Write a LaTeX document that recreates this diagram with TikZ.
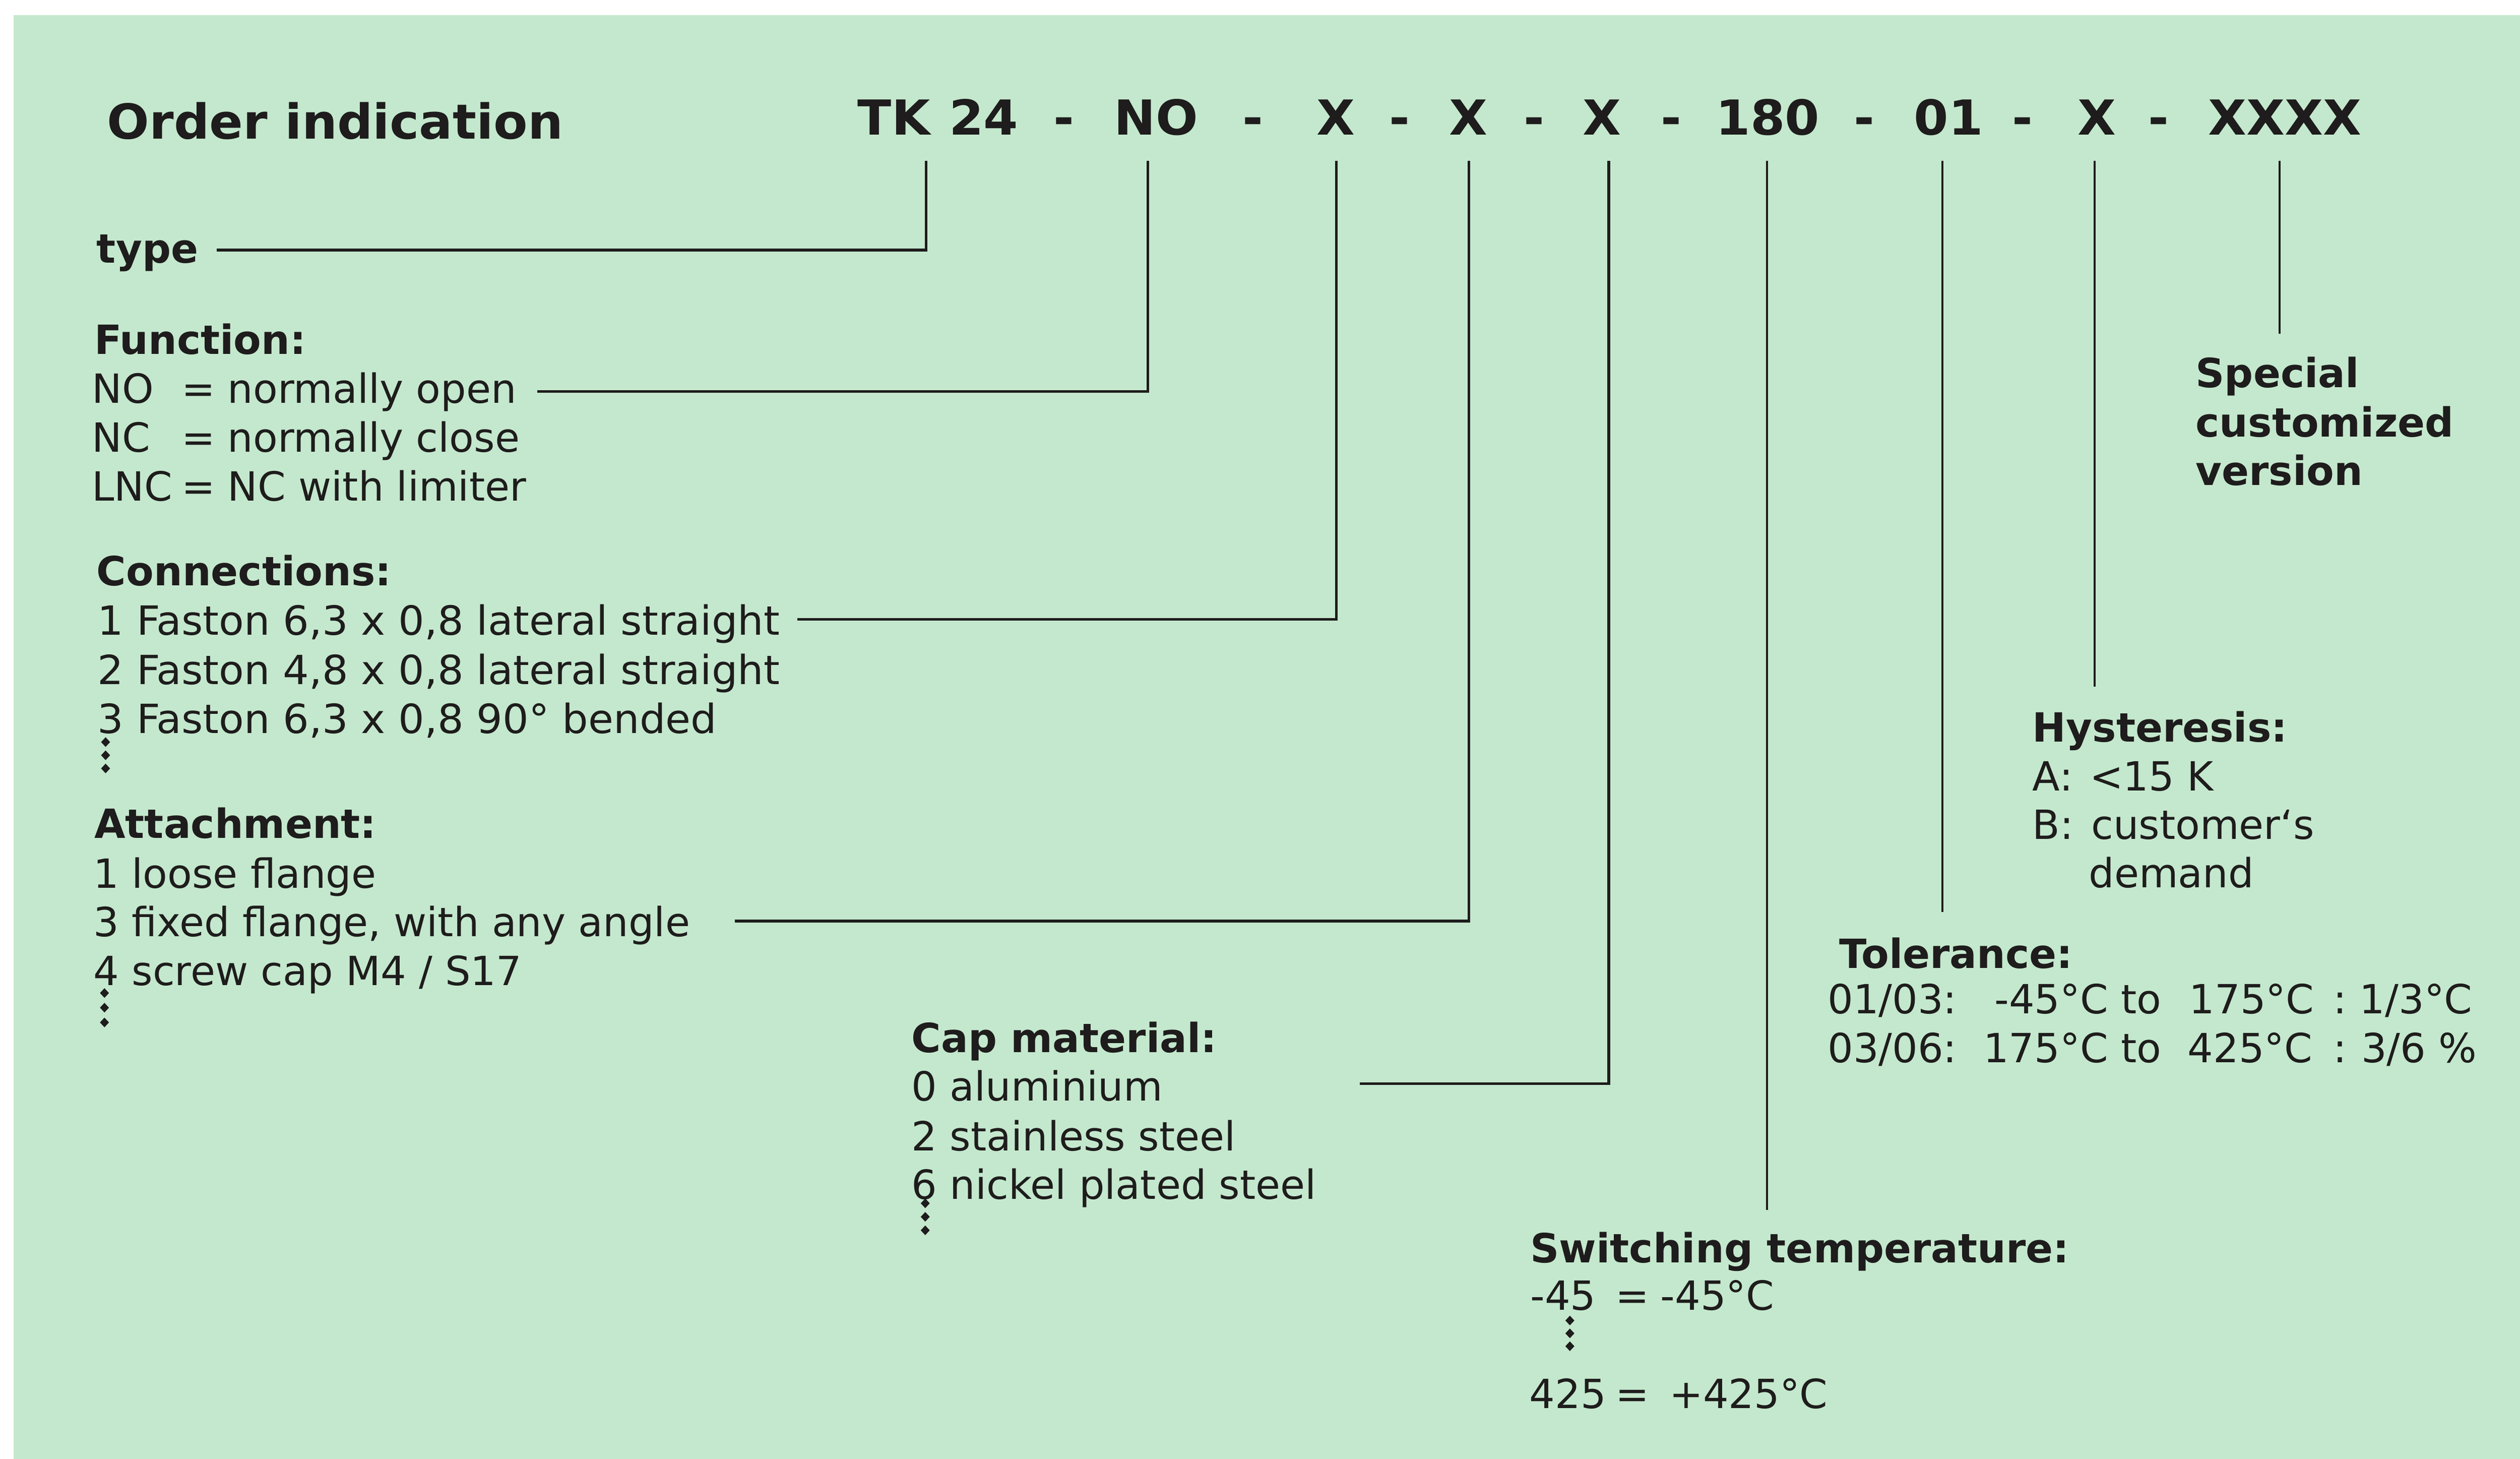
\documentclass[tikz,border=0pt]{standalone}
\usepackage{fontspec}
\setmainfont{DejaVu Sans}
\newfontfamily\bigfont{DejaVu Sans}[FakeStretch=1.03]
\newfontfamily\widefont{DejaVu Sans}[FakeStretch=1.02]
\definecolor{bg}{RGB}{196,232,205}
\definecolor{ink}{RGB}{30,28,28}
\begin{document}
\begin{tikzpicture}[x=1pt,y=-1pt,
  txt/.style={anchor=base west, inner sep=0pt, text=ink, font=\fontsize{25}{30}\selectfont},
  wtxt/.style={txt, font=\widefont\fontsize{25}{30}\selectfont},
  txte/.style={txt, anchor=base east},
  txtc/.style={txt, anchor=base},
  hd/.style={txt, font=\fontsize{25}{30}\selectfont\bfseries},
  big/.style={anchor=base, inner sep=0pt, text=ink, font=\bigfont\fontsize{30}{36}\selectfont\bfseries},
  ln/.style={draw=ink, line width=1.7pt},
  vln/.style={draw=ink, line width=1.3pt}]
\useasboundingbox (0,0) rectangle (1568,907.3);
\fill[white] (-5,-5) rectangle (1575,915);
\fill[bg] (8.5,9.4) rectangle (1575,915);

% title and code
\node[big, anchor=base west] (title) at (66.5,86.3) {Order indication};
\node[big] (cTK)  at (556.2,84) {TK};
\node[big] (c24)  at (612.1,84) {24};
\node[big] (h1)   at (662,84) {-};
\node[big] (cNO)  at (719.3,84) {NO};
\node[big] (h2)   at (779.5,84) {-};
\node[big] (cX1)  at (831.2,84) {X};
\node[big] (h3)   at (870.8,84) {-};
\node[big] (cX2)  at (913.8,84) {X};
\node[big] (h4)   at (954.7,84) {-};
\node[big] (cX3)  at (996.7,84) {X};
\node[big] (h5)   at (1040,84) {-};
\node[big] (c180) at (1099.9,84) {180};
\node[big] (h6)   at (1160,84) {-};
\node[big] (c01)  at (1212.4,84) {01};
\node[big] (h7)   at (1258.5,84) {-};
\node[big] (cX4)  at (1304.8,84) {X};
\node[big] (h8)   at (1343,84) {-};
\node[big] (cXX)  at (1421.6,84) {XXXX};

% type
\node[hd] (type) at (60,163.5) {type};

% Function
\node[hd] (fun) at (58.5,220.4) {Function:};
\node[txt] (funA1) at (57,250.8) {NO};
\node[txt] (funA2) at (113,250.8) {=};
\node[txt] (funA3) at (141.5,250.8) {normally open};
\node[txt] (funB1) at (57,281) {NC};
\node[txt] (funB2) at (113,281) {=};
\node[txt] (funB3) at (141.5,281) {normally close};
\node[txt] (funC1) at (57,311.6) {LNC};
\node[txt] (funC2) at (113,311.6) {=};
\node[txt] (funC3) at (141.5,311.6) {NC with limiter};

% Connections
\node[hd] (con) at (60,364.3) {Connections:};
\node[wtxt] (con1) at (60.5,395.1) {1 Faston 6,3 x 0,8 lateral straight};
\node[wtxt] (con2) at (60.5,425.6) {2 Faston 4,8 x 0,8 lateral straight};
\node[wtxt] (con3) at (60.5,456.1) {3 Faston 6,3 x 0,8 90° bended};

% Attachment
\node[hd] (att) at (58.5,521.4) {Attachment:};
\node[txt] (att1) at (58,552.3) {1 loose flange};
\node[txt] (att2) at (58,582.5) {3 fixed flange, with any angle};
\node[txt] (att3) at (58,612.9) {4 screw cap M4 / S17};

% Cap material
\node[hd] (cap) at (567,654.7) {Cap material:};
\node[txt] (cap1) at (567,684.8) {0 aluminium};
\node[txt] (cap2) at (567,715.7) {2 stainless steel};
\node[txt] (cap3) at (567,745.8) {6 nickel plated steel};

% Switching temperature
\node[hd] (sw) at (952,785.4) {Switching temperature:};
\node[txt] (swA1) at (952,814.8) {-45};
\node[txt] (swA2) at (1005,814.8) {=};
\node[txt] (swA3) at (1033,814.8) {-45°C};
\node[txt] (swB1) at (951.5,875.9) {425};
\node[txt] (swB2) at (1005,875.9) {=};
\node[txt] (swB3) at (1038.5,875.9) {+425°C};

% Tolerance
\node[hd] (tol) at (1144.3,602.2) {Tolerance:};
\node[txt]  (tolA1) at (1137,630.6) {01/03:};
\node[txte] (tolA2) at (1345,630.6) {-45°C to};
\node[txt]  (tolA3) at (1362,630.6) {175°C};
\node[txtc] (tolA4) at (1456,630.6) {:};
\node[txt]  (tolA5) at (1468,630.6) {1/3°C};
\node[txt]  (tolB1) at (1137,661) {03/06:};
\node[txte] (tolB2) at (1345,661) {175°C to};
\node[txt]  (tolB3) at (1361,661) {425°C};
\node[txtc] (tolB4) at (1456,661) {:};
\node[txt]  (tolB5) at (1469,661) {3/6 \%};

% Hysteresis
\node[hd] (hys) at (1264.5,461.5) {Hysteresis:};
\node[txt] (hysA1) at (1264.5,492) {A:};
\node[txt] (hysA2) at (1300,492) {<15 K};
\node[txt] (hysB1) at (1264.5,522) {B:};
\node[txt] (hysB2) at (1301,522) {customer‘s};
\node[txt] (hysB3) at (1299.5,552.1) {demand};

% Special
\node[hd] (sp1) at (1366,241) {Special};
\node[hd] (sp2) at (1366,271.7) {customized};
\node[hd] (sp3) at (1366,301.9) {version};

% connector end points
\coordinate (t1) at (576.3,100);
\coordinate (t2) at (714.3,100);
\coordinate (t3) at (831.5,100);
\coordinate (t4) at (914,100);
\coordinate (t5) at (1001,100);
\coordinate (t6) at (1099.5,100);
\coordinate (t7) at (1208.5,100);
\coordinate (t8) at (1303.2,100);
\coordinate (t9) at (1418.5,100);
\coordinate (s1) at (134.8,155.5);
\coordinate (s2) at (334.3,243.5);
\coordinate (s3) at (496,385.3);
\coordinate (s4) at (457.1,573);
\coordinate (s5) at (846,674);
\coordinate (e6) at (1099.5,752.6);
\coordinate (e7) at (1208.5,567.2);
\coordinate (e8) at (1303.2,427.2);
\coordinate (e9) at (1418.5,207.5);

\draw[ln] (s1) -| (t1);
\draw[ln] (s2) -| (t2);
\draw[ln] (s3) -| (t3);
\draw[ln] (s4) -| (t4);
\draw[ln] (s5) -| (t5);
\draw[vln] (t6) -- (e6);
\draw[vln] (t7) -- (e7);
\draw[vln] (t8) -- (e8);
\draw[vln] (t9) -- (e9);

% vertical dots
\foreach \x/\y in {65.7/461.6, 65.7/469.8, 65.7/478,
                   65/617.7, 65/626.8, 65/636,
                   575.7/748.5, 575.7/756.9, 575.7/765.3,
                   976.8/821.4, 976.8/829.4, 976.8/837.4}
  \fill[ink] (\x,\y) +(0,-3) -- +(2.8,0) -- +(0,3) -- +(-2.8,0) -- cycle;
\end{tikzpicture}
\end{document}
